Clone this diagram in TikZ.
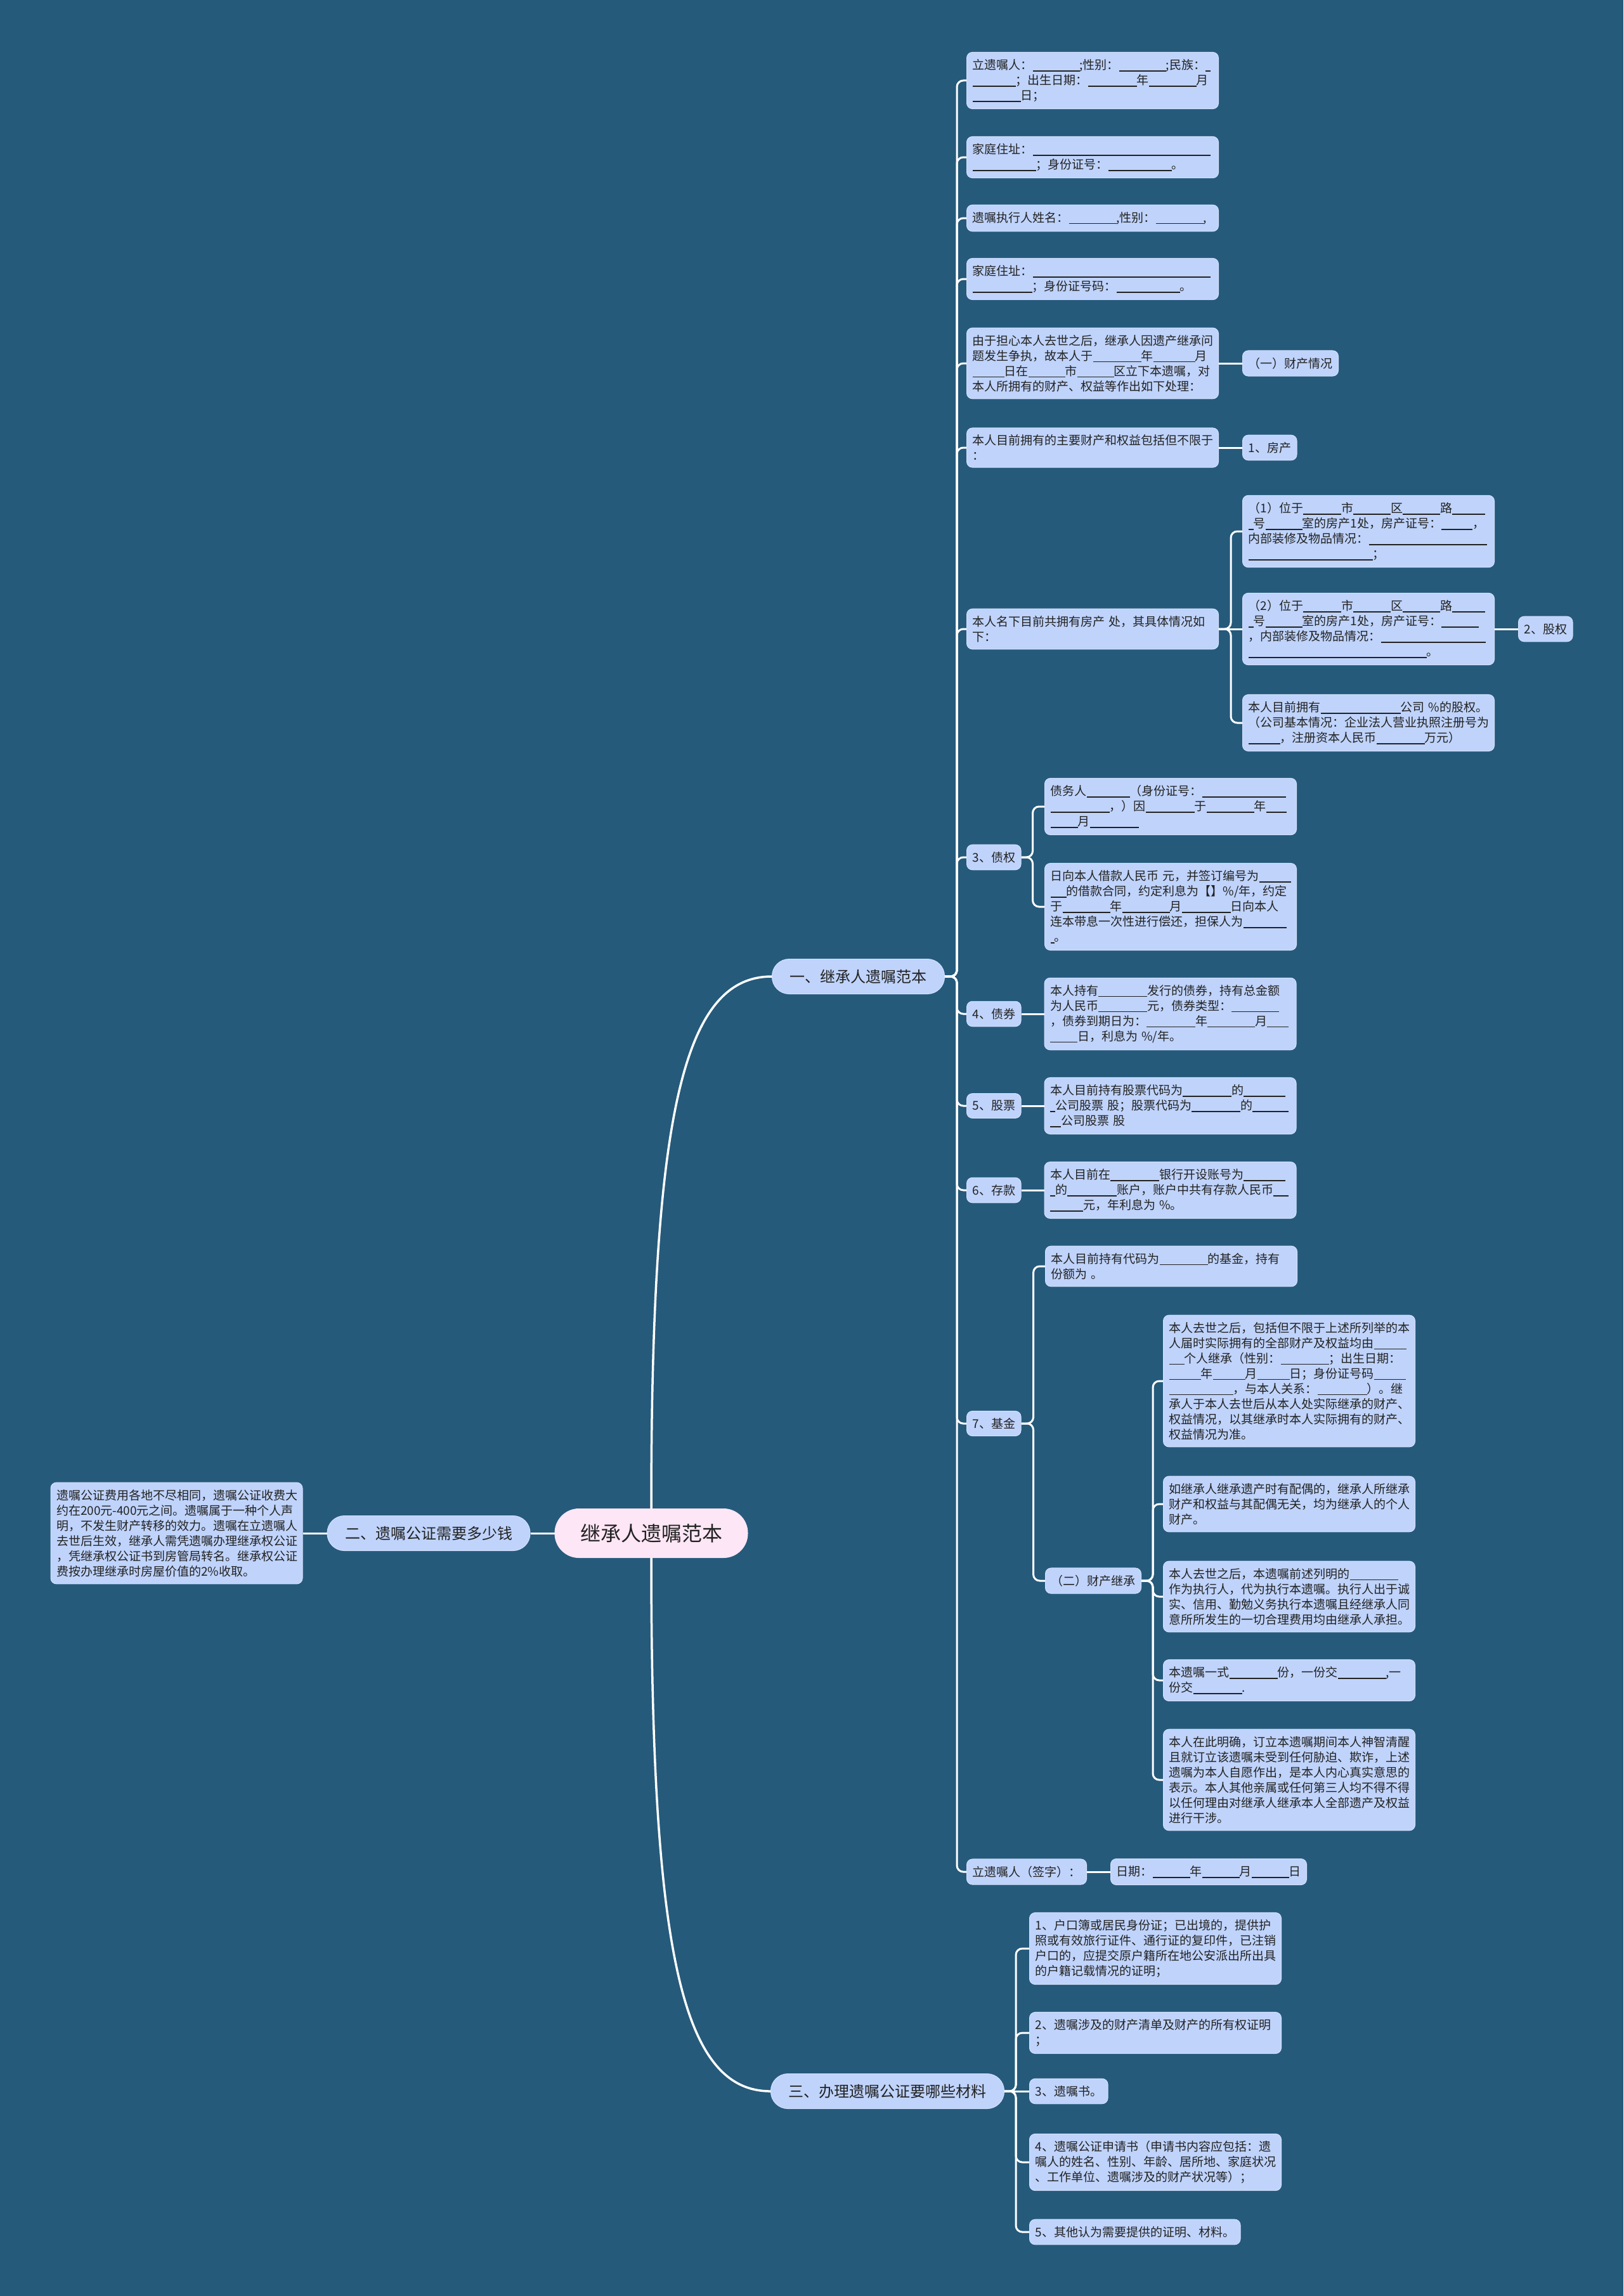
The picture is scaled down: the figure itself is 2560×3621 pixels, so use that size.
\documentclass[tikz,border=0pt]{standalone}
\usepackage{fontspec}
\setmainfont{Noto Sans CJK SC}
\usetikzlibrary{positioning}
\definecolor{Bg}{HTML}{255A7B}
\definecolor{Leaf}{HTML}{BFD3FB}
\definecolor{LeafEdge}{HTML}{D3E1FC}
\definecolor{RootFill}{HTML}{FDE6F6}
\definecolor{Ink}{HTML}{222222}
\newcommand\leaffont{\fontsize{19pt}{24pt}\selectfont}
\newcommand\branchfont{\fontsize{24pt}{30pt}\selectfont}
\newcommand\rootfont{\fontsize{32pt}{38pt}\selectfont}
\newcommand\bk[1]{\rule[-3pt]{#1pt}{1.3pt}}
\tikzset{
 base/.style={fill=Leaf,draw=LeafEdge,line width=1pt,rounded corners=9pt,
   text=Ink,font=\leaffont,inner xsep=9pt,inner ysep=11pt},
 leaf/.style={base,text width=379pt,align=left},
 tag/.style={base},
 branch/.style={base,font=\branchfont,rounded corners=27pt,minimum height=55pt,inner xsep=28pt},
 root/.style={base,fill=RootFill,draw=RootFill,font=\rootfont,rounded corners=38pt,
   minimum height=77pt,inner xsep=40pt},
 link/.style={draw=white,line width=3pt,rounded corners=10pt},
 trunk/.style={draw=white,line width=3.5pt}
}
\begin{document}
\begin{tikzpicture}[x=1pt,y=-1pt]
\fill[Bg] (0,0) rectangle (2560,3621);
% centre and the three branches
\node[root] (root) at (1027,2418) {继承人遗嘱范本};
\node[branch,anchor=west] (b1) at (1217,1540) {一、继承人遗嘱范本};
\node[branch,left=38pt of root] (b2) {二、遗嘱公证需要多少钱};
\node[branch,anchor=west] (b3) at (1215,3298) {三、办理遗嘱公证要哪些材料};
\node[leaf,left=38pt of b2] (f1) {遗嘱公证费用各地不尽相同，遗嘱公证收费大\\
约在200元-400元之间。遗嘱属于一种个人声\\
明，不发生财产转移的效力。遗嘱在立遗嘱人\\
去世后生效，继承人需凭遗嘱办理继承权公证\\
，凭继承权公证书到房管局转名。继承权公证\\
费按办理继承时房屋价值的2\%收取。};
% branch one
\node[leaf,anchor=west] (a1) at (1524,127) {立遗嘱人：\bk{74};性别：\bk{74};民族：\bk{8}\\
\bk{68}；出生日期：\bk{77}年\bk{75}月\\
\bk{76}日；};
\node[leaf,anchor=west] (a2) at (1524,248) {家庭住址：\bk{280}\\
\bk{100}；身份证号：\bk{100}。};
\node[leaf,anchor=west] (a3) at (1524,344) {遗嘱执行人姓名：\bk{75},性别：\bk{75},};
\node[leaf,anchor=west] (a4) at (1524,440) {家庭住址：\bk{280}\\
\bk{94}；身份证号码：\bk{100}。};
\node[leaf,anchor=west] (a5) at (1524,573) {由于担心本人去世之后，继承人因遗产继承问\\
题发生争执，故本人于\bk{76}年\bk{66}月\\
\bk{50}日在\bk{58}市\bk{58}区立下本遗嘱，对\\
本人所拥有的财产、权益等作出如下处理：};
\node[tag,right=37pt of a5] (a5x) {（一）财产情况};
\node[leaf,anchor=west] (a6) at (1524,706) {本人目前拥有的主要财产和权益包括但不限于\\
：};
\node[tag,right=37pt of a6] (a6x) {1、房产};
\node[leaf,anchor=west] (a7) at (1524,992) {本人名下目前共拥有房产~处，其具体情况如\\
下：};
\node[leaf,anchor=west] (h1) at (1959,838) {（1）位于\bk{60}市\bk{59}区\bk{59}路\bk{52}\\
\bk{8}号\bk{58}室的房产1处，房产证号：\bk{49}，\\
内部装修及物品情况：\bk{186}\\
\bk{196}；};
\node[leaf,anchor=west] (h2) at (1959,992) {（2）位于\bk{60}市\bk{59}区\bk{59}路\bk{52}\\
\bk{8}号\bk{58}室的房产1处，房产证号：\bk{59}\\
，内部装修及物品情况：\bk{165}\\
\bk{281}。};
\node[tag,right=37pt of h2] (h2x) {2、股权};
\node[leaf,anchor=west] (h3) at (1959,1140) {本人目前拥有\bk{126}公司~\%的股权。\\
（公司基本情况：企业法人营业执照注册号为\\
\bk{50}，注册资本人民币\bk{76}万元）};
\node[tag,anchor=west] (d3) at (1524,1352) {3、债权};
\node[leaf,anchor=west] (d3a) at (1647,1272) {债务人\bk{68}（身份证号：\bk{132}\\
\bk{93}，）因\bk{77}于\bk{75}年\bk{32}\\
\bk{43}月\bk{77}};
\node[leaf,anchor=west] (d3b) at (1647,1430) {日向本人借款人民币~元，并签订编号为\bk{50}\\
\bk{25}的借款合同，约定利息为【】\%/年，约定\\
于\bk{75}年\bk{75}月\bk{77}日向本人\\
连本带息一次性进行偿还，担保人为\bk{68}\\
\bk{6}。};
\node[tag,anchor=west] (d4) at (1524,1599) {4、债券};
\node[leaf,right=36pt of d4] (d4a) {本人持有\bk{77}发行的债券，持有总金额\\
为人民币\bk{77}元，债券类型：\bk{75}\\
，债券到期日为：\bk{77}年\bk{75}月\bk{34}\\
\bk{43}日，利息为~\%/年。};
\node[tag,anchor=west] (d5) at (1524,1744) {5、股票};
\node[leaf,right=36pt of d5] (d5a) {本人目前持有股票代码为\bk{77}的\bk{66}\\
\bk{8}公司股票~股；股票代码为\bk{77}的\bk{57}\\
\bk{17}公司股票~股};
\node[tag,anchor=west] (d6) at (1524,1877) {6、存款};
\node[leaf,right=36pt of d6] (d6a) {本人目前在\bk{77}银行开设账号为\bk{66}\\
\bk{8}的\bk{78}账户，账户中共有存款人民币\bk{24}\\
\bk{52}元，年利息为~\%。};
\node[tag,anchor=west] (d7) at (1524,2245) {7、基金};
\node[leaf,anchor=west] (d7a) at (1648,1997) {本人目前持有代码为\bk{76}的基金，持有\\
份额为~。};
\node[tag,anchor=west] (d7b) at (1648,2493) {（二）财产继承};
\node[leaf,anchor=west] (s1) at (1834,2178) {本人去世之后，包括但不限于上述所列举的本\\
人届时实际拥有的全部财产及权益均由\bk{51}\\
\bk{24}个人继承（性别：\bk{76}；出生日期：\\
\bk{50}年\bk{51}月\bk{51}日；身份证号码\bk{50}\\
\bk{101}，与本人关系：\bk{78}）。继\\
承人于本人去世后从本人处实际继承的财产、\\
权益情况，以其继承时本人实际拥有的财产、\\
权益情况为准。};
\node[leaf,anchor=west] (s2) at (1834,2372) {如继承人继承遗产时有配偶的，继承人所继承\\
财产和权益与其配偶无关，均为继承人的个人\\
财产。};
\node[leaf,anchor=west] (s3) at (1834,2518) {本人去世之后，本遗嘱前述列明的\bk{76}\\
作为执行人，代为执行本遗嘱。执行人出于诚\\
实、信用、勤勉义务执行本遗嘱且经继承人同\\
意所所发生的一切合理费用均由继承人承担。};
\node[leaf,anchor=west] (s4) at (1834,2650) {本遗嘱一式\bk{76}份，一份交\bk{76},一\\
份交\bk{77}.};
\node[leaf,anchor=west] (s5) at (1834,2807) {本人在此明确，订立本遗嘱期间本人神智清醒\\
且就订立该遗嘱未受到任何胁迫、欺诈，上述\\
遗嘱为本人自愿作出，是本人内心真实意思的\\
表示。本人其他亲属或任何第三人均不得不得\\
以任何理由对继承人继承本人全部遗产及权益\\
进行干涉。};
\node[tag,anchor=west] (sg) at (1524,2952) {立遗嘱人（签字）：};
\node[tag,right=37pt of sg] (dt) {日期：\bk{59}年\bk{59}月\bk{59}日};
% branch three
\node[leaf,anchor=west] (m1) at (1623,3073) {1、户口簿或居民身份证；已出境的，提供护\\
照或有效旅行证件、通行证的复印件，已注销\\
户口的，应提交原户籍所在地公安派出所出具\\
的户籍记载情况的证明；};
\node[leaf,anchor=west] (m2) at (1623,3206) {2、遗嘱涉及的财产清单及财产的所有权证明\\
；};
\node[tag,anchor=west] (m3) at (1623,3298) {3、遗嘱书。};
\node[leaf,anchor=west] (m4) at (1623,3410) {4、遗嘱公证申请书（申请书内容应包括：遗\\
嘱人的姓名、性别、年龄、居所地、家庭状况\\
、工作单位、遗嘱涉及的财产状况等）；};
\node[tag,anchor=west] (m5) at (1623,3520) {5、其他认为需要提供的证明、材料。};
% connectors
\draw[trunk] (root.north) .. controls +(0,-620) and +(-140,0) .. (b1.west);
\draw[trunk] (root.south) .. controls +(0,620) and +(-140,0) .. (b3.west);
\draw[link] (root.west) -- (b2.east);
\draw[link] (b2.west) -- (f1.east);
\foreach \c in {a1,a2,a3,a4,a5,a6,a7,d3,d4,d5,d6,d7,sg}
  \draw[link] (b1.east) -- ++(19,0) |- (\c.west);
\draw[link] (a5.east) -- (a5x.west);
\draw[link] (a6.east) -- (a6x.west);
\foreach \c in {h1,h3}
  \draw[link] (a7.east) -- ++(19,0) |- (\c.west);
\draw[link] (a7.east) -- (h2.west);
\draw[link] (h2.east) -- (h2x.west);
\foreach \c in {d3a,d3b}
  \draw[link] (d3.east) -- ++(18,0) |- (\c.west);
\draw[link] (d4.east) -- (d4a.west);
\draw[link] (d5.east) -- (d5a.west);
\draw[link] (d6.east) -- (d6a.west);
\foreach \c in {d7a,d7b}
  \draw[link] (d7.east) -- ++(19,0) |- (\c.west);
\foreach \c in {s1,s2,s3,s4,s5}
  \draw[link] (d7b.east) -- ++(18,0) |- (\c.west);
\draw[link] (sg.east) -- (dt.west);
\foreach \c in {m1,m2,m4,m5}
  \draw[link] (b3.east) -- ++(18,0) |- (\c.west);
\draw[link] (b3.east) -- (m3.west);
\end{tikzpicture}
\end{document}
